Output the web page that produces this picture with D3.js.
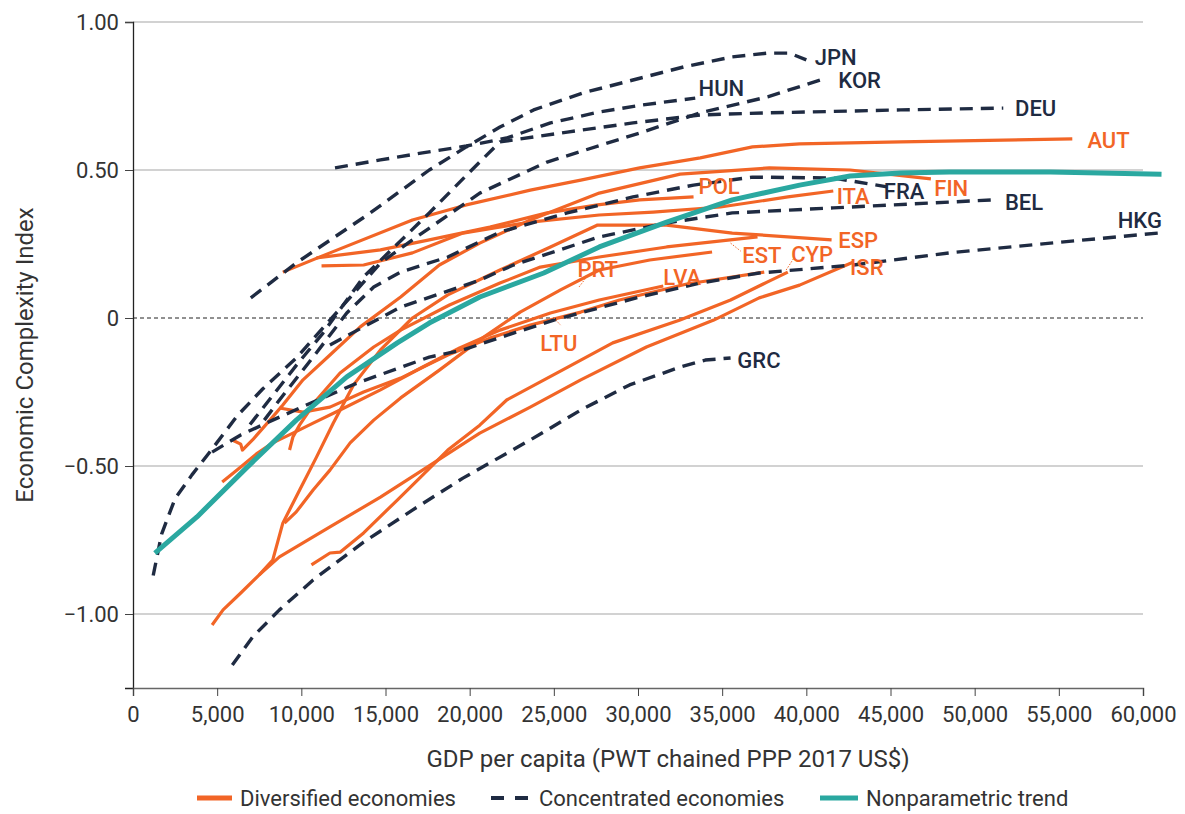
<!DOCTYPE html>
<html><head><meta charset="utf-8">
<script src="https://cdn.jsdelivr.net/npm/d3@7"></script>
<style>body{margin:0;background:#fff;font-family:Roboto,"Noto Sans",sans-serif}</style>
</head><body>
<svg id="chart" width="1185" height="814"></svg>
<script>
// ---------- data ----------
const xTicks = [0,5000,10000,15000,20000,25000,30000,35000,40000,45000,50000,55000,60000];
const yTicks = [1,0.5,0,-0.5,-1];

// Concentrated economies (dashed)
const KOR = [[1200,-0.87],[1700,-0.73],[2500,-0.61],[3500,-0.53],[4600,-0.45],[6200,-0.33],[7700,-0.24],[9700,-0.135],[12500,0.044],[14700,0.186],[16600,0.264],[20600,0.422],[24600,0.527],[30100,0.625],[33700,0.693],[37700,0.747],[41200,0.811]];
const JPN = [[7000,0.068],[9700,0.186],[14100,0.355],[17600,0.5],[19800,0.578],[21800,0.645],[23800,0.703],[26700,0.76],[29700,0.804],[32700,0.848],[35600,0.882],[37700,0.895],[39000,0.895],[40000,0.872]];
const HUN = [[12000,0.507],[14700,0.534],[17100,0.557],[19800,0.581],[22200,0.608],[24800,0.659],[27700,0.696],[30300,0.72],[33400,0.743]];
const DEU = [[6950,-0.36],[9700,-0.16],[11300,-0.05],[13700,0.139],[17600,0.355],[20000,0.493],[21800,0.595],[25800,0.628],[29700,0.659],[33700,0.686],[37700,0.693],[45600,0.703],[51700,0.709]];
const FRA = [[7800,-0.345],[8700,-0.277],[10700,-0.132],[12700,0.017],[14300,0.105],[15900,0.155],[18700,0.206],[21800,0.29],[25800,0.355],[29700,0.409],[33300,0.449],[36800,0.476],[41600,0.473],[44800,0.443]];
const BEL = [[11700,-0.091],[15900,0.037],[20600,0.128],[22600,0.179],[27700,0.274],[31700,0.321],[35600,0.355],[41600,0.372],[51100,0.399]];
const HKG = [[4700,-0.453],[6400,-0.395],[8300,-0.345],[10300,-0.294],[13300,-0.22],[17600,-0.132],[19600,-0.108],[22600,-0.051],[25000,-0.007],[30100,0.071],[33700,0.118],[37200,0.152],[42800,0.179],[48500,0.22],[54500,0.253],[60900,0.287]];
const GRC = [[5900,-1.172],[7100,-1.078],[8700,-0.986],[10700,-0.885],[13700,-0.757],[16600,-0.649],[19600,-0.541],[23600,-0.412],[26600,-0.311],[29500,-0.226],[32500,-0.166],[34000,-0.142],[35500,-0.135]];

// Diversified economies (solid)
const AUT = [[8900,0.155],[11700,0.22],[16600,0.331],[19800,0.382],[23600,0.432],[26600,0.466],[30100,0.507],[33700,0.541],[36800,0.578],[39600,0.588],[45600,0.595],[55800,0.605]];
const POL = [[10900,0.203],[14700,0.23],[17600,0.264],[21200,0.307],[24600,0.355],[27600,0.382],[30100,0.399],[33300,0.409]];
const ITA = [[11200,0.176],[13700,0.179],[16600,0.22],[19600,0.287],[23600,0.324],[27700,0.348],[30900,0.358],[34900,0.375],[38900,0.409],[41600,0.429]];
const FIN = [[5900,-0.412],[6400,-0.426],[6500,-0.446],[7100,-0.412],[8300,-0.334],[8900,-0.294],[10100,-0.209],[11700,-0.125],[13500,-0.03],[15900,0.071],[18200,0.179],[20600,0.253],[23600,0.331],[27700,0.422],[32500,0.486],[37800,0.507],[42600,0.5],[47400,0.47]];
const ESP = [[4700,-1.037],[5350,-0.986],[6400,-0.929],[7500,-0.868],[8300,-0.818],[8900,-0.693],[9900,-0.581],[10900,-0.47],[11900,-0.355],[13100,-0.226],[14700,-0.108],[16600,0.0],[18700,0.078],[21800,0.162],[24800,0.24],[27600,0.314],[31700,0.314],[35600,0.287],[41500,0.264]];
const PRT = [[9000,-0.693],[9700,-0.655],[10700,-0.581],[11700,-0.514],[12900,-0.422],[14300,-0.345],[15900,-0.27],[18200,-0.176],[20600,-0.074],[23000,0.02],[25400,0.095],[27700,0.162],[30700,0.196],[34400,0.223]];
const ISR = [[7500,-0.868],[8700,-0.807],[11700,-0.706],[14700,-0.605],[17200,-0.514],[20600,-0.389],[23600,-0.301],[26600,-0.209],[30500,-0.098],[34500,-0.007],[37200,0.068],[39600,0.111],[42800,0.189]];
const CYP = [[10600,-0.834],[11700,-0.794],[12300,-0.791],[13700,-0.726],[15700,-0.615],[17100,-0.537],[18700,-0.446],[20600,-0.362],[22200,-0.277],[25500,-0.176],[28500,-0.084],[32500,-0.007],[35500,0.061],[37700,0.122],[38900,0.155]];
const LTU = [[8700,-0.304],[10100,-0.318],[11700,-0.301],[13700,-0.25],[15900,-0.203],[18700,-0.125],[21200,-0.068],[23600,-0.024],[26600,0.02],[28900,0.061],[32900,0.115],[37500,0.155]];
const EST = [[9300,-0.446],[9500,-0.402],[9900,-0.361],[10900,-0.277],[12300,-0.186],[14300,-0.098],[15900,-0.041],[18800,0.044],[21800,0.118],[24200,0.172],[27700,0.206],[31700,0.24],[37100,0.274]];
const LVA = [[5300,-0.554],[6400,-0.503],[7400,-0.456],[8300,-0.422],[9500,-0.389],[10700,-0.355],[12300,-0.311],[14700,-0.243],[17100,-0.169],[19400,-0.101],[21800,-0.041],[24800,0.017],[27700,0.061],[31500,0.108]];

// Nonparametric trend
const TREND = [[1300,-0.794],[3800,-0.672],[6800,-0.503],[9700,-0.345],[12700,-0.199],[15700,-0.084],[17600,-0.017],[20600,0.071],[24400,0.152],[27700,0.24],[31700,0.324],[35600,0.399],[39600,0.449],[42600,0.48],[45600,0.49],[48500,0.493],[54500,0.493],[61100,0.486]];

const concentrated = [KOR,JPN,HUN,DEU,FRA,BEL,HKG,GRC];
const diversified = [AUT,POL,ITA,FIN,ESP,PRT,ISR,CYP,LTU,EST,LVA];

// label name, group, label anchor position in data units
const labelNames = ["JPN","KOR","HUN","DEU","AUT","POL","ITA","FRA","FIN","BEL","HKG","ESP","EST","CYP","ISR","PRT","LVA","LTU","GRC"];
const labelGroup = ["c","c","c","c","d","d","d","c","d","c","c","d","d","d","d","d","d","d","c"];
const labelX = [40500,41900,33600,52400,56700,33600,41800,44600,47600,51800,58500,41900,36200,39100,42600,26400,31500,24200,35900];
const labelY = [0.882,0.804,0.777,0.709,0.601,0.446,0.412,0.429,0.439,0.392,0.331,0.264,0.213,0.216,0.172,0.166,0.139,-0.084,-0.142];
// dotted leader lines [x1,y1,x2,y2]
const leaders = [[26500,0.105,26900,0.135],[35500,0.253,36100,0.226],[38800,0.162,39300,0.206],[25000,0.0,25400,-0.024]];

const legendLabels = ["Diversified economies","Concentrated economies","Nonparametric trend"];

// ---------- drawing ----------
const ORANGE = "#f26526", NAVY = "#1f2b42", TEAL = "#2aa8a0";
const svg = d3.select("#chart");
const x = d3.scaleLinear().domain([0,60000]).range([133,1143]);
const y = d3.scaleLinear().domain([-1.25,1]).range([688,22]);

// grid
svg.append("g").selectAll("line").data(yTicks.filter(v=>v!==0)).join("line")
  .attr("x1",x(0)).attr("x2",x(60000)).attr("y1",d=>y(d)).attr("y2",d=>y(d))
  .attr("stroke","#a6a6a6").attr("stroke-width",1.2);
svg.append("line").attr("x1",x(0)).attr("x2",x(60000)).attr("y1",y(0)).attr("y2",y(0))
  .attr("stroke","#222").attr("stroke-width",1).attr("stroke-dasharray","4,3");

// axes
const yAxis = d3.axisLeft(y).tickValues(yTicks).tickSize(8).tickPadding(6)
  .tickFormat(d=> d===0 ? "0" : d3.format(".2f")(d).replace("-","\u2212"));
const gy = svg.append("g").attr("transform",`translate(${x(0)},0)`).call(yAxis);
gy.select(".domain").attr("stroke","#222").attr("stroke-width",1.3);
gy.selectAll(".tick line").attr("stroke","#444");
gy.selectAll("text").attr("font-size",22).attr("fill","#333").attr("font-family","Roboto");

const xAxis = d3.axisBottom(x).tickValues(xTicks).tickSize(8).tickPadding(10)
  .tickFormat(d=> d===0 ? "0" : d3.format(",")(d));
const gx = svg.append("g").attr("transform",`translate(0,${y(-1.25)})`).call(xAxis);
gx.select(".domain").attr("stroke","#666").attr("stroke-width",1.5);
gx.selectAll(".tick line").attr("stroke","#444");
gx.selectAll("text").attr("font-size",22).attr("fill","#333").attr("font-family","Roboto");

svg.append("text").attr("x",668).attr("y",767).attr("text-anchor","middle")
  .attr("font-size",24).attr("fill","#333").text("GDP per capita (PWT chained PPP 2017 US$)");
svg.append("text").attr("transform","translate(33,355) rotate(-90)").attr("text-anchor","middle")
  .attr("font-size",24).attr("fill","#333").text("Economic Complexity Index");

const line = d3.line().x(d=>x(d[0])).y(d=>y(d[1]));

svg.append("g").selectAll("path").data(diversified).join("path")
  .attr("d",line).attr("fill","none").attr("stroke",ORANGE).attr("stroke-width",3.2)
  .attr("stroke-linejoin","round").attr("stroke-linecap","butt");
svg.append("g").selectAll("path").data(concentrated).join("path")
  .attr("d",line).attr("fill","none").attr("stroke",NAVY).attr("stroke-width",3.4)
  .attr("stroke-dasharray","13,8").attr("stroke-linejoin","round");
svg.append("path").datum(TREND).attr("d",line).attr("fill","none")
  .attr("stroke",TEAL).attr("stroke-width",5).attr("stroke-linejoin","round");

// leaders
svg.append("g").selectAll("line").data(leaders).join("line")
  .attr("x1",d=>x(d[0])).attr("y1",d=>y(d[1])).attr("x2",d=>x(d[2])).attr("y2",d=>y(d[3]))
  .attr("stroke",ORANGE).attr("stroke-width",1).attr("stroke-dasharray","1.5,1.5");

// labels
svg.append("g").selectAll("text").data(labelNames).join("text")
  .attr("x",(d,i)=>x(labelX[i])).attr("y",(d,i)=>y(labelY[i]))
  .attr("dy","0.36em").attr("font-size",22).attr("font-weight",500)
  .attr("fill",(d,i)=>labelGroup[i]==="d"?ORANGE:NAVY).text(d=>d);

// legend
const lg = svg.append("g").attr("transform","translate(0,798)");
lg.append("line").attr("x1",197).attr("x2",232).attr("y1",0).attr("y2",0).attr("stroke",ORANGE).attr("stroke-width",5);
lg.append("text").attr("x",240).attr("y",0).attr("dy","0.35em").attr("font-size",22).attr("fill","#333").text(legendLabels[0]);
lg.append("line").attr("x1",491).attr("x2",530).attr("y1",0).attr("y2",0).attr("stroke",NAVY).attr("stroke-width",4).attr("stroke-dasharray","13,11");
lg.append("text").attr("x",539).attr("y",0).attr("dy","0.35em").attr("font-size",22).attr("fill","#333").text(legendLabels[1]);
lg.append("line").attr("x1",820).attr("x2",858).attr("y1",0).attr("y2",0).attr("stroke",TEAL).attr("stroke-width",5);
lg.append("text").attr("x",866).attr("y",0).attr("dy","0.35em").attr("font-size",22).attr("fill","#333").text(legendLabels[2]);
</script>
</body></html>
